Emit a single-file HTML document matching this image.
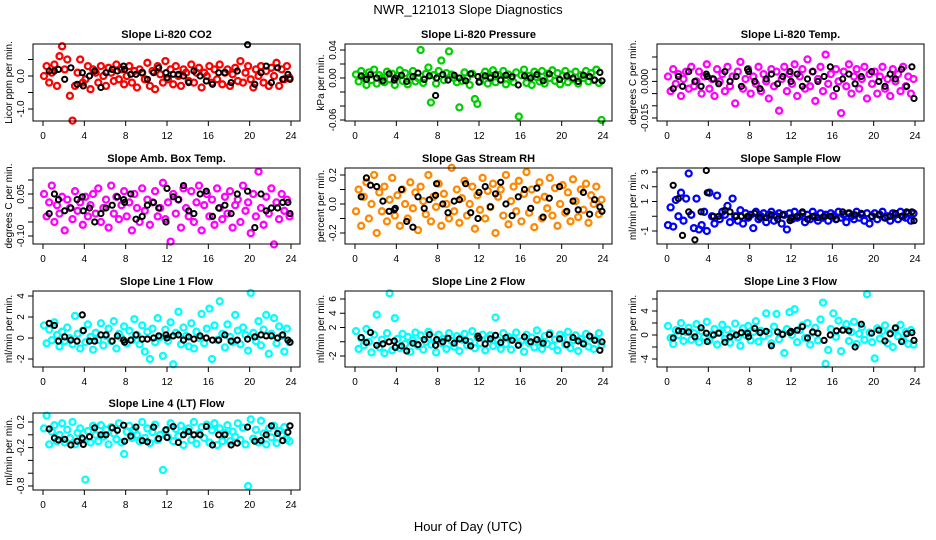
<!DOCTYPE html>
<html><head><meta charset="utf-8"><style>
html,body{margin:0;padding:0;background:#fff;}
svg{display:block;font-family:"Liberation Sans",sans-serif;}
</style></head><body>
<svg id="chart" width="936" height="540" viewBox="0 0 936 540" xmlns="http://www.w3.org/2000/svg">
<rect width="936" height="540" fill="#fff"/>
<text x="468" y="14" text-anchor="middle" font-size="13">NWR_121013  Slope Diagnostics</text>
<text x="468" y="531" text-anchor="middle" font-size="13">Hour of Day (UTC)</text>
</svg>
<script>
const hours=[];for(let i=0;i<96;i++)hours.push(+(0.1+0.25*i).toFixed(2));
const blackHours=[0.6,1.1,1.5,2.1,2.7,3.3,3.8,3.9,4.5,5.0,5.6,6.1,6.7,7.2,7.8,7.9,8.5,9.0,9.6,10.1,10.7,11.2,11.9,12.0,12.6,13.1,13.6,14.1,14.6,15.2,15.8,16.4,17.0,17.6,18.2,18.8,19.8,20.5,21.1,21.6,22.1,22.7,23.2,23.7,23.9];
const xTicks=[0,4,8,12,16,20,24];

const co2=[0.0,0.3,-0.2,0.1,0.35,-0.3,0.6,0.9,0.2,0.5,-0.6,-1.35,-0.3,0.1,0.5,-0.2,-0.1,0.3,-0.4,0.2,
0.1,-0.2,0.3,0.0,-0.3,0.25,0.1,-0.15,0.35,-0.1,0.2,-0.25,0.0,0.3,-0.2,0.15,-0.35,0.2,0.1,-0.1,
0.4,-0.3,0.15,-0.4,0.3,0.05,-0.2,0.45,-0.1,0.2,-0.25,0.3,0.0,-0.3,0.2,0.1,-0.15,0.35,-0.2,0.1,
0.25,-0.35,0.1,0.0,0.3,-0.2,0.2,-0.1,0.35,-0.25,0.1,0.2,-0.3,0.05,0.25,-0.15,0.45,-0.2,0.1,0.3,
-0.1,-0.35,0.2,0.0,0.3,-0.2,0.15,-0.3,0.25,0.0,0.4,-0.3,0.2,-0.1,0.3,-0.05];
const co2Black=[0.15,0.15,0.2,-0.1,0.25,-0.25,0.1,-0.3,0.0,0.15,-0.35,0.1,0.2,0.15,0.3,0.2,0.05,0.05,0.1,-0.1,0.1,0.25,0.1,-0.05,0.05,0.05,0.0,-0.2,0.15,0.0,-0.15,-0.25,0.1,0.1,-0.2,0.15,0.95,-0.25,0.1,0.3,-0.2,0.25,-0.1,0.05,-0.1];
const pres=[0.005,-0.005,0.01,0.0,-0.01,0.008,-0.003,0.012,-0.008,0.004,0.0,-0.006,0.009,-0.002,0.006,-0.01,0.003,0.011,-0.004,0.007,
-0.009,0.002,0.01,-0.005,0.0,0.04,-0.007,0.006,0.015,-0.035,0.004,-0.008,0.01,0.025,-0.003,0.007,0.038,0.005,0.0,-0.006,
-0.042,-0.004,0.008,0.0,-0.01,0.006,-0.03,-0.037,-0.005,0.003,0.009,-0.008,0.002,0.011,-0.006,0.004,-0.002,0.01,-0.009,0.005,
0.0,-0.006,0.008,-0.055,0.004,0.012,-0.007,0.003,-0.01,0.009,0.001,-0.005,0.01,-0.008,0.006,0.0,0.011,-0.004,0.007,-0.009,
0.003,0.01,-0.006,0.005,-0.002,0.009,-0.008,0.004,0.0,0.01,-0.005,0.007,-0.003,0.012,-0.007,-0.06];
const presBlack=[0.003,-0.002,0.005,0.0,-0.004,0.006,-0.003,0.0,0.004,-0.005,0.002,0.007,-0.002,0.003,-0.025,0.0,0.005,-0.003,0.004,0.0,
-0.004,0.006,0.002,-0.006,0.003,0.0,0.005,-0.003,0.004,0.002,-0.01,0.003,0.0,0.005,-0.004,0.006,-0.002,0.003,0.0,-0.005,
0.004,0.002,-0.003,0.008,-0.004];
const temp=[0.002,-0.004,0.005,-0.001,0.003,-0.006,0.001,0.004,-0.003,0.006,-0.002,0.0,0.004,-0.005,0.002,0.007,-0.003,0.001,-0.006,0.005,
0.0,0.003,-0.004,0.006,-0.002,0.002,-0.009,0.004,0.008,-0.003,0.001,0.005,-0.005,0.002,-0.001,0.006,-0.004,0.003,0.0,-0.007,
0.005,-0.002,0.004,-0.012,0.001,0.006,-0.004,0.003,-0.001,0.007,-0.006,0.002,0.005,-0.003,0.009,-0.002,0.004,-0.008,0.001,0.006,
-0.004,0.011,-0.001,0.003,-0.006,0.005,0.0,-0.013,0.004,-0.002,0.007,-0.005,0.002,0.005,-0.003,0.001,0.006,-0.007,0.003,-0.001,
0.004,-0.005,0.002,0.006,-0.003,0.001,-0.006,0.005,0.0,0.003,-0.004,0.006,-0.002,0.002,-0.005,0.001];
const tempBlack=[-0.003,0.002,-0.002,0.004,0.0,-0.002,0.003,0.002,0.001,-0.001,0.004,0.0,0.002,-0.002,0.005,0.004,0.0,-0.003,0.001,0.003,
-0.001,0.002,0.004,0.0,0.003,-0.002,0.001,0.004,0.0,0.002,0.006,-0.003,0.001,0.003,-0.001,0.002,0.004,0.0,-0.002,0.003,
0.001,0.005,-0.002,0.006,-0.007];
const amb=[0.05,-0.03,0.02,0.08,-0.05,0.01,-0.02,0.04,-0.08,0.03,0.0,-0.04,0.06,-0.01,0.02,-0.06,0.04,-0.03,0.01,0.05,
-0.02,0.07,-0.05,0.0,0.03,-0.07,0.08,-0.02,0.04,-0.04,0.01,0.06,-0.03,0.02,-0.08,0.05,0.0,-0.05,0.07,-0.01,
0.03,-0.06,0.02,0.06,-0.03,0.0,0.09,-0.04,0.02,-0.12,0.05,-0.02,0.03,-0.07,0.07,0.0,-0.03,0.06,-0.05,0.02,
0.08,-0.08,0.01,0.05,-0.03,0.03,-0.06,0.07,0.0,-0.04,0.04,-0.02,0.06,-0.07,0.01,0.03,-0.05,0.08,-0.01,0.02,
-0.09,0.05,-0.03,0.13,0.0,-0.06,0.04,-0.02,0.07,-0.13,0.02,-0.04,0.05,-0.01,0.03,-0.03];
const ambBlack=[-0.02,0.05,0.03,-0.01,0.0,0.03,0.04,-0.01,0.0,-0.05,-0.02,0.0,0.01,0.04,0.03,0.02,0.05,-0.04,-0.03,0.01,
0.02,0.0,-0.05,0.07,0.04,0.03,0.08,-0.01,-0.02,0.05,0.06,-0.03,0.0,0.01,-0.02,0.05,0.06,-0.07,0.05,-0.01,
0.0,0.0,0.02,0.02,-0.02];
const rh=[-0.05,0.1,-0.15,0.05,0.15,-0.1,0.0,0.2,-0.2,0.08,-0.05,0.12,-0.12,0.03,0.18,-0.08,0.06,-0.15,0.1,0.0,
-0.1,0.15,-0.03,0.08,-0.18,0.12,0.02,-0.07,0.2,-0.12,0.05,-0.02,0.14,-0.15,0.07,0.0,-0.1,0.25,-0.05,0.1,
-0.13,0.04,0.16,-0.08,0.0,0.12,-0.17,0.06,-0.04,0.18,-0.1,0.09,-0.02,0.14,-0.2,0.05,0.1,-0.08,0.2,-0.14,
0.02,0.12,-0.05,0.16,-0.12,0.07,0.22,-0.06,0.1,-0.16,0.03,0.15,-0.1,0.05,-0.03,0.18,-0.08,0.11,-0.15,0.0,
0.13,-0.06,0.08,-0.12,0.17,0.02,-0.09,0.1,-0.04,0.14,-0.13,0.06,0.0,0.12,-0.07,0.03];
const rhBlack=[0.05,0.18,0.13,0.12,0.02,-0.05,-0.04,-0.03,0.1,-0.12,-0.16,0.05,-0.03,0.03,0.06,0.14,0.0,-0.06,0.02,0.03,
0.14,-0.06,-0.1,0.08,0.12,-0.02,0.07,0.15,0.0,-0.08,0.05,0.1,-0.03,0.11,-0.09,0.04,0.12,-0.05,0.02,-0.04,
0.08,-0.07,0.03,-0.02,-0.05];
const sample=[-0.6,0.6,-0.7,1.1,0.0,1.6,-0.3,1.2,2.9,0.1,-0.8,1.2,-0.9,-0.6,0.3,-1.0,1.6,0.0,-0.5,1.4,
-0.2,0.3,0.1,0.7,-0.4,1.2,0.0,-0.3,0.4,-0.5,0.2,-0.1,0.1,-0.8,0.3,-0.2,0.0,0.2,-0.4,0.1,
0.3,-0.3,0.0,0.2,-0.5,0.1,-0.9,0.2,-0.2,0.3,-0.1,0.0,0.2,-0.4,0.1,-0.2,0.3,0.0,-0.3,0.2,
-0.1,0.1,-0.3,0.2,0.0,-0.2,0.3,-0.1,0.1,-0.4,0.2,0.0,-0.2,0.3,-0.1,0.1,-0.3,0.2,-0.5,0.0,
0.2,-0.2,0.1,0.3,-0.1,0.0,-0.3,0.2,0.1,-0.2,0.3,0.0,-0.1,0.2,-0.3,0.2];
const sampleBlack=[2.1,1.2,-1.3,0.3,-1.6,0.3,3.1,1.6,0.0,0.0,0.4,0.3,0.0,0.0,0.0,0.0,0.2,-0.1,-0.1,0.1,
-0.2,0.1,-0.3,-0.1,0.0,0.3,-0.2,0.0,-0.1,0.0,0.0,-0.2,0.3,0.2,0.1,0.2,0.0,0.1,-0.1,0.0,
0.2,0.0,0.3,0.3,-0.3];
const line1=[1.2,-0.5,0.8,-0.2,1.5,0.3,-0.8,0.6,-0.3,1.0,0.0,-0.6,2.1,0.4,-1.0,0.7,-0.4,1.3,0.1,-1.1,
0.5,-0.2,1.4,-0.7,0.2,0.9,-0.3,1.6,-1.0,0.4,0.0,1.1,-0.5,0.7,-0.2,1.8,0.3,-0.6,1.2,-1.3,
0.6,-2.0,0.9,-0.4,1.9,0.1,-1.7,0.8,-0.3,1.5,-2.5,0.5,2.5,-0.6,1.0,0.2,-0.8,1.4,-1.0,0.6,
0.0,2.3,-0.5,0.9,2.8,-2.0,1.2,-0.2,3.5,0.4,-0.9,1.3,0.1,-0.4,2.2,0.7,-0.6,1.0,0.3,-1.2,
4.3,0.5,-0.3,1.6,-0.7,0.8,2.2,-1.5,0.4,1.9,-0.5,1.1,0.2,-1.3,0.9,-0.4];
const line1Black=[1.4,1.2,-0.3,0.1,-0.2,-0.3,2.2,0.7,-0.3,-0.3,0.3,0.3,-0.3,0.2,-0.2,-0.4,-0.2,0.3,-0.1,-0.1,
0.0,0.2,0.3,0.0,0.2,0.3,-0.2,0.1,-0.1,0.2,0.0,-0.2,-0.2,0.3,-0.3,-0.2,-0.1,0.1,0.3,0.2,
0.2,0.0,0.3,-0.2,-0.4];
const line2=[1.5,-1.0,0.5,-0.5,1.8,0.0,-1.5,1.0,3.8,-0.8,0.3,-1.6,1.2,6.8,-1.2,3.3,0.4,-0.9,1.1,-0.3,
0.7,-1.4,0.2,1.3,-0.6,0.9,-1.1,0.0,1.4,-0.4,0.6,-1.5,1.0,-0.2,0.4,-1.0,1.2,0.1,-0.7,0.8,
-1.3,0.3,1.1,-0.5,0.0,1.5,-0.9,0.6,-0.2,1.0,-1.2,0.4,0.9,-0.6,3.4,0.2,-1.0,1.2,-0.3,0.7,
-1.1,0.5,1.3,-0.4,0.1,-1.4,1.0,-0.2,0.6,-0.8,1.6,0.0,-1.0,0.8,-0.3,1.2,-0.6,0.3,-1.2,1.0,
0.5,-0.4,1.4,-0.9,0.2,0.9,-1.3,0.4,-0.1,1.1,-0.7,0.6,-1.0,0.3,1.2,-0.5];
const line2Black=[0.6,-0.1,1.3,-0.5,-0.3,0.0,0.1,-0.8,-0.6,-1.3,-0.2,-0.4,0.3,1.0,-0.5,0.3,0.0,0.5,-0.2,0.4,
0.2,-0.6,0.8,0.5,-0.3,0.4,0.9,-0.1,0.6,0.2,-0.5,0.7,0.0,0.3,-0.2,1.0,0.4,-0.4,0.6,0.1,
-0.3,0.8,0.2,-1.2,0.0];
const line3=[1.5,-0.5,-1.5,0.8,0.0,2.0,-1.0,0.5,1.2,-0.8,0.3,1.8,-1.2,0.6,-0.3,2.2,-0.9,0.1,1.0,-1.6,
0.4,1.7,-0.6,0.9,-1.3,0.2,1.9,-0.4,-1.8,1.1,0.0,1.5,-0.9,0.5,2.3,-1.1,0.7,-0.2,3.6,0.3,
-1.4,1.4,3.5,-0.7,0.2,-3.0,1.0,3.8,0.0,4.3,-1.2,0.8,1.6,-0.5,2.0,-1.6,0.4,1.2,-0.9,2.6,
5.4,-4.8,-2.5,1.0,3.6,-0.3,2.4,-2.7,0.9,1.8,-1.0,0.5,2.2,-1.5,0.2,1.3,-0.8,6.8,0.4,-1.2,
-3.9,1.1,-0.6,0.7,1.6,-1.4,0.3,-2.0,1.0,-0.2,1.7,-0.9,0.5,-1.5,0.8,-1.6];
const line3Black=[-0.5,0.7,0.6,0.5,-0.3,1.2,0.3,-1.1,0.0,0.3,-1.2,-0.3,0.0,0.4,0.3,-0.3,1.1,0.4,0.6,-1.8,
0.5,0.1,0.4,0.6,0.8,1.4,-0.5,0.5,0.3,-0.9,0.0,0.7,0.8,0.7,-2.0,1.8,0.3,0.8,-1.0,0.2,
1.2,-1.1,0.2,0.4,-0.9];
const line4=[0.1,0.3,-0.15,0.05,0.15,-0.1,0.0,0.18,-0.12,0.08,-0.05,0.2,-0.15,0.03,0.1,-0.08,-0.7,0.06,-0.12,0.14,
0.0,-0.1,0.15,-0.03,0.08,-0.15,0.12,0.02,-0.07,0.18,-0.12,-0.3,0.05,0.14,-0.05,0.07,0.0,-0.1,0.2,-0.05,
0.1,-0.13,0.04,0.16,-0.08,0.0,-0.55,0.06,-0.04,0.18,-0.1,0.09,-0.02,0.14,-0.16,0.05,0.1,-0.08,0.2,-0.14,
0.02,0.12,-0.05,0.16,-0.12,0.07,0.18,-0.16,0.1,-0.1,0.03,0.15,-0.1,0.05,-0.03,0.18,-0.08,0.11,-0.15,-0.8,
0.24,-0.06,0.08,-0.12,0.22,0.02,-0.15,0.1,-0.04,0.14,-0.13,0.06,0.0,0.12,-0.07,-0.1];
const line4Black=[0.09,-0.05,-0.08,-0.07,-0.16,-0.1,-0.05,-0.15,-0.03,0.11,0.0,0.0,0.11,0.07,0.15,-0.1,-0.02,0.12,-0.09,-0.11,
0.12,-0.06,0.08,-0.04,0.13,-0.12,0.0,0.05,0.0,0.0,0.13,-0.16,0.0,0.0,-0.16,-0.13,0.12,-0.1,-0.09,0.0,
0.14,0.02,-0.09,0.04,0.14];

const yTicks1=[-1,-0.5,0,0.5], yLabels1=["-1.0","","0.0",""];
const yTicks2=[-0.06,-0.04,-0.02,0,0.02,0.04], yLabels2=["-0.06","","","0.00","","0.04"];
const yTicks3=[-0.015,-0.01,-0.005,0,0.005,0.01], yLabels3=["-0.015","","","0.000","",""];
const yTicks4=[-0.1,-0.05,0,0.05,0.1], yLabels4=["-0.10","","","0.05",""];
const yTicks5=[-0.2,-0.1,0,0.1,0.2], yLabels5=["-0.2","","0.0","","0.2"];
const yTicks6=[-1,0,1,2,3], yLabels6=["-1","","1","2","3"];
const yTicks7=[-2,0,2,4], yLabels7=["-2","0","2","4"];
const yTicks8=[-2,0,2,4,6], yLabels8=["-2","","2","4","6"];
const yTicks9=[-4,-2,0,2,4,6], yLabels9=["-4","","0","","4",""];
const yTicks10=[-0.8,-0.6,-0.4,-0.2,0,0.2], yLabels10=["-0.8","","","-0.2","","0.2"];

const panels=[
 {title:"Slope Li-820 CO2",ylab:"Licor ppm per min.",col:0,row:0,color:"#ff0000",vals:co2,blk:co2Black,cal:[0,76,-1,109],ticks:yTicks1,labels:yLabels1},
 {title:"Slope Li-820 Pressure",ylab:"kPa per min.",col:1,row:0,color:"#00d000",vals:pres,blk:presBlack,cal:[0.04,50,-0.06,120],ticks:yTicks2,labels:yLabels2},
 {title:"Slope Li-820 Temp.",ylab:"degrees C per min.",col:2,row:0,color:"#ff00ff",vals:temp,blk:tempBlack,cal:[0.01,57,-0.015,118],ticks:yTicks3,labels:yLabels3},
 {title:"Slope Amb. Box Temp.",ylab:"degrees C per min.",col:0,row:1,color:"#ff00ff",vals:amb,blk:ambBlack,cal:[0.05,194,-0.1,236],ticks:yTicks4,labels:yLabels4},
 {title:"Slope Gas Stream RH",ylab:"percent per min.",col:1,row:1,color:"#ff8800",vals:rh,blk:rhBlack,cal:[0.2,175,-0.2,233],ticks:yTicks5,labels:yLabels5},
 {title:"Slope Sample Flow",ylab:"ml/min per min.",col:2,row:1,color:"#0000ff",vals:sample,blk:sampleBlack,cal:[3,172,-1,231],ticks:yTicks6,labels:yLabels6},
 {title:"Slope Line 1 Flow",ylab:"ml/min per min.",col:0,row:2,color:"#00ffff",vals:line1,blk:line1Black,cal:[4,296,-2,359],ticks:yTicks7,labels:yLabels7},
 {title:"Slope Line 2 Flow",ylab:"ml/min per min.",col:1,row:2,color:"#00ffff",vals:line2,blk:line2Black,cal:[6,299,-2,356],ticks:yTicks8,labels:yLabels8},
 {title:"Slope Line 3 Flow",ylab:"ml/min per min.",col:2,row:2,color:"#00ffff",vals:line3,blk:line3Black,cal:[4,311,-4,359],ticks:yTicks9,labels:yLabels9},
 {title:"Slope Line 4 (LT) Flow",ylab:"ml/min per min.",col:0,row:3,color:"#00ffff",vals:line4,blk:line4Black,cal:[0.2,422,-0.8,486],ticks:yTicks10,labels:yLabels10}
];
const rowBox=[[44,121],[168,244],[291,367],[413,490]];
const NS="http://www.w3.org/2000/svg";
const svg=document.getElementById('chart');
function mk(tag,attrs,parent){const e=document.createElementNS(NS,tag);for(const k in attrs)e.setAttribute(k,attrs[k]);(parent||svg).appendChild(e);return e;}

panels.forEach((p,pi)=>{
  const ox=312*p.col;
  const [top,bot]=rowBox[p.row];
  const left=33+ox,right=300+ox;
  const xs=h=>43+ox+(h/24)*248;
  const [v0,p0,v1,p1]=p.cal;
  const ys=v=>p0+(v-v0)*(p1-p0)/(v1-v0);
  const g=mk('g',{});
  
  
  const t=mk('text',{x:(left+right)/2,y:top-6,'text-anchor':'middle','font-size':11,'font-weight':'bold'},g);
  t.textContent=p.title;
  
  
  const yl=mk('text',{x:0,y:0,'text-anchor':'middle','font-size':10,transform:`translate(${12+ox},${(top+bot)/2}) rotate(-90)`},g);
  yl.textContent=p.ylab;
  
  
  const sg=mk('g',{fill:'none',stroke:p.color,'stroke-width':2.3},g);
  
  
  for(let i=0;i<Math.min(hours.length,p.vals.length);i++){
    const c=mk('circle',{cx:xs(hours[i]).toFixed(1),cy:ys(p.vals[i]).toFixed(1),r:3},sg);
    
    
  }
  const bg=mk('g',{fill:'none',stroke:'#000','stroke-width':2},g);
  
  
  for(let i=0;i<Math.min(blackHours.length,p.blk.length);i++){
    const c=mk('circle',{cx:xs(blackHours[i]).toFixed(1),cy:ys(p.blk[i]).toFixed(1),r:2.6},bg);
    
    
  }
  const b=mk('rect',{x:left,y:top,width:right-left,height:bot-top,fill:'none',stroke:'#000','stroke-width':1},g);
  
  
  const xa=mk('g',{},g);
  
  
  xTicks.forEach(v=>{
    const x=xs(v);
    mk('line',{x1:x,x2:x,y1:bot,y2:bot+5,stroke:'#000'},xa);
    const tl=mk('text',{x:x,y:bot+18,'text-anchor':'middle','font-size':10},xa);
    tl.textContent=v;
    
    
  });
  const ya=mk('g',{},g);
  
  
  p.ticks.forEach((v,k)=>{
    const y=ys(v);
    mk('line',{x1:left-5,x2:left,y1:y,y2:y,stroke:'#000'},ya);
    if(p.labels[k]){
      const tl=mk('text',{x:0,y:0,'text-anchor':'middle','font-size':10,transform:`translate(${left-9},${y}) rotate(-90)`},ya);
      tl.textContent=p.labels[k];
      
      
    }
  });
});
</script>
</body></html>
